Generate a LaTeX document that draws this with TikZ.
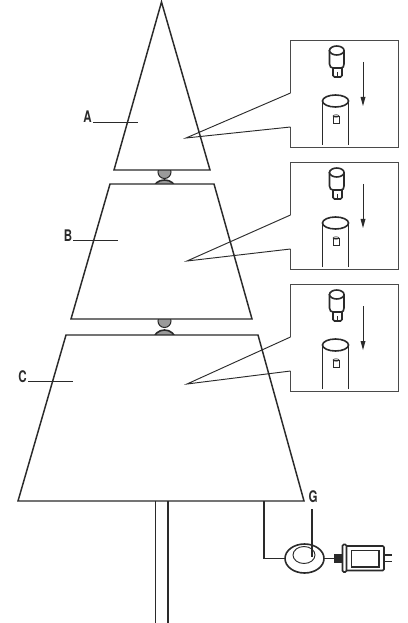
\documentclass[tikz,border=0pt]{standalone}
\usepackage{fontspec}
\setmainfont{TeX Gyre Heros}
\definecolor{ink}{HTML}{2A2A2A}
\definecolor{ballgray}{HTML}{9A9A9A}
\tikzset{
  x=0.75pt,y=-0.75pt,
  tier/.style={draw=ink,line width=1.1pt,line join=miter,fill=white},
  thin line/.style={draw=ink,line width=0.7pt},
  heavy/.style={draw=ink,line width=1.2pt},
  lab/.style={font=\bfseries\fontsize{12}{13}\selectfont,text=ink,inner sep=0pt,xscale=0.72},
  ball/.style={draw=ink,line width=0.8pt,fill=ballgray},
  panel/.pic={
    \coordinate (-t) at (290.5,93);
    \coordinate (-b) at (290.5,127);
    \draw[thin line,draw=ink!85] (-t) -- (290.5,40) -- (398,40) -- (398,147) -- (290.5,147) -- (-b);
    % lamp
    \draw[heavy,fill=white] (333,67) -- (333,75.5) .. controls (333,76.5) and (333.5,77) .. (334.5,77) -- (340.5,77) .. controls (341.5,77) and (342,76.5) .. (342,75.5) -- (342,67);
    \draw[heavy,fill=white] (329.5,50) -- (329.5,64) .. controls (329.5,66.5) and (331,68) .. (333,68) -- (341,68) .. controls (343,68) and (344,66.5) .. (344,64) -- (344,50);
    \draw[heavy,fill=white] (336.75,50.5) ellipse [x radius=7.25,y radius=4.5];
    \draw[thin line,line width=0.6pt] (337,72) -- (337,76);
    % arrow
    \draw[thin line] (363,62) -- (363,98);
    \fill[ink] (360.5,97) -- (365.5,97) -- (363,106) -- cycle;
    % tube
    \draw[heavy] (322.5,145) -- (322.5,101);
    \draw[heavy] (348.5,145) -- (348.5,101);
    \draw[heavy] (335.5,101) ellipse [x radius=13,y radius=6];
    % socket
    \draw[thin line,line width=0.6pt] (333,116) rectangle (339,123);
    \draw[thin line,line width=0.5pt] (336,116) ellipse [x radius=3,y radius=1.2];
  }
}
\begin{document}
\begin{tikzpicture}
\useasboundingbox (0,0) rectangle (407,623);
\fill[white] (0,0) rectangle (407,623);
% joints
\begin{scope}
  \clip (150,170) rectangle (180,184);
  \draw[ball] (164.5,172) circle [radius=6.5];
  \draw[ball,line width=1.2pt] (164.5,189) ellipse [x radius=11,y radius=9];
\end{scope}
\begin{scope}
  \clip (150,319) rectangle (180,335);
  \draw[ball] (164.5,321) circle [radius=6.5];
  \draw[ball,line width=1.2pt] (164.5,340) ellipse [x radius=11,y radius=10];
\end{scope}
% tiers
\draw[tier] (161.5,2) -- (210,170) -- (114,170) -- cycle;
\draw[tier] (110,184) -- (214,184) -- (252,319) -- (71,319) -- cycle;
\draw[tier] (66,335) -- (258,335) -- (304,501) -- (18,501) -- cycle;
% trunk
\draw[heavy] (155.5,501) -- (155.5,623);
\draw[heavy] (168,501) -- (168,623);
% panels
\pic (pa) at (0,0) {panel};
\pic (pb) at (0,122) {panel};
\pic (pc) at (0,244) {panel};
\coordinate (oa) at (186,138);
\coordinate (ob) at (187,261);
\coordinate (oc) at (187,384);
\draw[thin line] (pa-t) -- (oa) -- (pa-b);
\draw[thin line] (pb-t) -- (ob) -- (pb-b);
\draw[thin line] (pc-t) -- (oc) -- (pc-b);
% labels
\node[lab] (la) at (87.5,117) {A};
\node[lab] (lb) at (68,236) {B};
\node[lab] (lc) at (22.5,377) {C};
\node[lab] (lg) at (313,497) {G};
\coordinate (ea) at (138,122);
\coordinate (eb) at (118,240);
\coordinate (ec) at (73,381);
\draw[thin line] (93,122) -- (ea);
\draw[thin line] (73,240) -- (eb);
\draw[thin line] (28,381) -- (ec);
% cord and controller
\coordinate (ct) at (264,501);
\coordinate (cc) at (285,558.5);
\draw[heavy] (ct) -- (264,558.5) -- (cc);
\draw[heavy] (304.5,558.5) ellipse [x radius=19.5,y radius=14.5];
\draw[thin line] (304,555) ellipse [x radius=11,y radius=8.5];
\draw[thin line,line width=0.8pt] (312,509) -- (312,557);
\draw[heavy] (324,558.5) -- (334,558.5);
\fill[ink] (334,554) rectangle (342,563);
\draw[heavy,rounded corners=1pt,fill=white] (342.5,544.5) rectangle (346.5,572);
\draw[heavy,rounded corners=1pt] (346.5,546) -- (384,546) -- (384,570.5) -- (346.5,570.5);
\draw[heavy] (351.5,550.5) rectangle (379,567);
\draw[heavy] (384,555) -- (392,555);
\draw[heavy] (384,561.5) -- (392,561.5);
\end{tikzpicture}
\end{document}
